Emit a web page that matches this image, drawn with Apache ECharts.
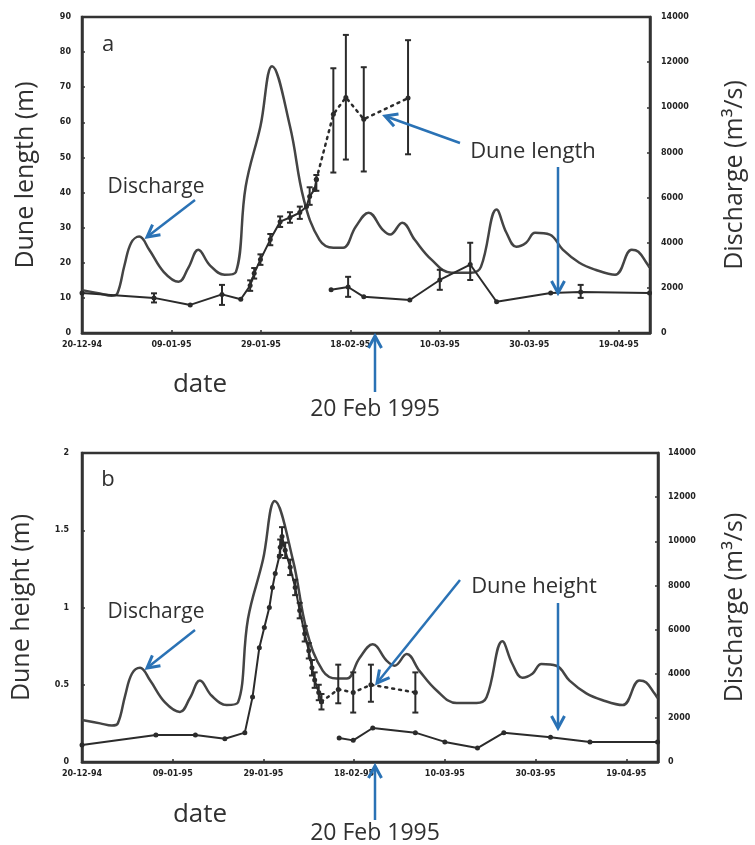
<!DOCTYPE html>
<html>
<head>
<meta charset="utf-8">
<script src="https://cdn.jsdelivr.net/npm/echarts@6/dist/echarts.min.js"></script>
<style>
html,body{margin:0;padding:0;background:#fff;}
#c{width:755px;height:845px;}
</style>
</head>
<body>
<div id="c"></div>
<script>
// ---- tick labels (x axis: days since 20-12-94, every 20 days) ----
const tickLabels = ['20-12-94','09-01-95','29-01-95','18-02-95','10-03-95','30-03-95','19-04-95'];

// ---- discharge (m3/s), shared by both panels ----
const dischargeDay = [0, 4, 6.6, 7.9, 9.5, 11, 12.8, 15, 18.3, 21.6, 23.8, 26, 28.6, 31.9, 34.4, 36.6, 39.9, 42.5, 46.5, 49.6, 53.1, 56.2, 58.4, 61.2, 64.1, 67.2, 68.9, 71.6, 74.4, 78.2, 82.6, 87, 89.2, 92.7, 94.9, 97.1, 99.3, 101.3, 104.6, 107.5, 111.2, 114.8, 119.2, 122.9, 124.4, 126.2, 126.9];
const dischargeQ   = [1900, 1750, 1650, 1750, 3000, 4000, 4270, 3700, 2700, 2270, 2900, 3690, 3000, 2580, 2700, 6490, 9160, 11820, 9160, 5910, 4130, 3780, 3780, 4710, 5330, 4580, 4360, 4890, 4130, 3240, 2670, 2670, 2930, 5470, 4440, 3820, 4000, 4440, 4360, 3690, 3110, 2800, 2580, 3690, 3600, 3110, 2900];

// ---- panel a: dune length (m) ----
const lengthMainDay = [0, 16.1, 24.2, 31.3, 35.5, 37.6, 38.5, 39.9, 42.1, 44.3, 46.5, 48.7, 50.2, 50.9, 52.0, 52.4];
const lengthMain    = [11.4, 10, 8, 11, 9.6, 13.5, 17, 20.9, 26.6, 31.7, 32.9, 34.3, 36, 38.9, 40.9, 43.7];
const lengthDotDay  = [52.4, 56.2, 59.0, 63.0, 72.9];
const lengthDot     = [43.7, 62.3, 67.1, 60.9, 66.9];
const lengthLowDay  = [55.7, 59.5, 63.0, 73.3, 80.0, 86.8, 92.7, 104.8, 111.5, 126.9];
const lengthLow     = [12.3, 13.1, 10.3, 9.4, 15.1, 19.5, 8.9, 11.4, 11.7, 11.4];
const lengthErrDay  = [16.1, 31.3, 37.6, 38.5, 39.9, 42.1, 44.3, 46.5, 48.7, 50.9, 52.4, 56.2, 59.0, 63.0, 72.9, 59.5, 80.0, 86.8, 111.5];
const lengthErrLow  = [8.7, 8, 12, 15.5, 19.4, 25, 30.2, 31.4, 32.5, 36.5, 40.5, 45.7, 49.4, 46, 50.9, 10.3, 12.3, 15.1, 10];
const lengthErrHigh = [11.3, 13.7, 15, 18.5, 22.4, 28.2, 33.2, 34.4, 36, 41.5, 45, 75.4, 84.9, 75.7, 83.4, 16, 18, 25.7, 13.7];

// ---- panel b: dune height (m) ----
const heightMainDay = [0, 16.3, 25, 31.5, 35.9, 37.6, 39.1, 40.2, 41.3, 42, 42.6, 43.5, 43.7, 44.1, 44.8, 45.9, 47, 48, 49.1, 50, 50.7, 51.3, 52.2, 52.8];
const heightMain    = [0.11, 0.175, 0.175, 0.15, 0.19, 0.42, 0.74, 0.87, 1.0, 1.13, 1.22, 1.33, 1.39, 1.46, 1.37, 1.26, 1.13, 0.98, 0.83, 0.72, 0.61, 0.53, 0.45, 0.39];
const heightDotDay  = [52.8, 56.5, 59.8, 63.7, 73.5];
const heightDot     = [0.39, 0.47, 0.45, 0.5, 0.45];
const heightLowDay  = [56.7, 59.8, 64.1, 73.5, 80, 87.2, 93, 103.3, 112, 126.9];
const heightLow     = [0.155, 0.14, 0.22, 0.19, 0.13, 0.09, 0.19, 0.16, 0.13, 0.13];
const heightErrDay  = [43.7, 44.1, 44.8, 45.9, 47, 48, 49.1, 50, 50.7, 51.3, 52.2, 52.8, 56.5, 59.8, 63.7, 73.5];
const heightErrLow  = [1.34, 1.4, 1.32, 1.21, 1.08, 0.93, 0.78, 0.67, 0.56, 0.48, 0.4, 0.34, 0.38, 0.32, 0.39, 0.32];
const heightErrHigh = [1.44, 1.52, 1.42, 1.31, 1.18, 1.03, 0.88, 0.77, 0.66, 0.58, 0.5, 0.44, 0.63, 0.58, 0.63, 0.58];

const zip = (a, b) => a.map((v, i) => [v, b[i]]);
const zip3 = (a, b, c) => a.map((v, i) => [v, b[i], c[i]]);

const INK = '#2b2b2b';
const QINK = '#444';
const BLUE = '#2a72b5';
const TXT = '#303030';
const FONT = '"Open Sans", "Noto Sans", sans-serif';

const chart = echarts.init(document.getElementById('c'), null, {renderer: 'canvas'});

function xAxisCfg(gi) {
  return {
    type: 'value', gridIndex: gi, min: 0, max: 127, interval: 20,
    axisLine: {show: true, lineStyle: {color: '#333', width: 2.5}},
    axisTick: {show: true, inside: true, length: 3, lineStyle: {color: '#333', width: 1.5}},
    splitLine: {show: false},
    axisLabel: {
      showMaxLabel: false, margin: 8,
      fontFamily: 'DejaVu Sans', fontWeight: 'bold', fontSize: 8, color: '#222',
      formatter: v => (v % 20 === 0 ? (tickLabels[v / 20] || '') : '')
    }
  };
}
function yAxisCfg(gi, pos, min, max, interval, name, gap, margin) {
  return {
    type: 'value', gridIndex: gi, position: pos, min: min, max: max, interval: interval,
    name: name, nameLocation: 'middle', nameRotate: 90, nameGap: gap,
    nameTextStyle: {fontFamily: FONT, fontSize: 25, color: TXT},
    axisLine: {show: true, lineStyle: {color: '#333', width: 2.5}},
    axisTick: {show: true, inside: true, length: 3, lineStyle: {color: '#333', width: 1.5}},
    splitLine: {show: false},
    axisLabel: {margin: margin, fontFamily: 'DejaVu Sans', fontWeight: 'bold', fontSize: 8, color: '#222',
      formatter: v => String(v)}
  };
}

function errRender(params, api) {
  const x = api.value(0), lo = api.value(1), hi = api.value(2);
  const p1 = api.coord([x, hi]), p2 = api.coord([x, lo]);
  const w = 3;
  const st = {stroke: INK, lineWidth: 2};
  return {type: 'group', children: [
    {type: 'line', shape: {x1: p1[0], y1: p1[1], x2: p2[0], y2: p2[1]}, style: st},
    {type: 'line', shape: {x1: p1[0] - w, y1: p1[1], x2: p1[0] + w, y2: p1[1]}, style: st},
    {type: 'line', shape: {x1: p2[0] - w, y1: p2[1], x2: p2[0] + w, y2: p2[1]}, style: st}
  ]};
}

function lineSeries(data, xi, yi, opts) {
  return Object.assign({
    type: 'line', xAxisIndex: xi, yAxisIndex: yi, data: data,
    symbol: 'circle', symbolSize: 5, showSymbol: true,
    itemStyle: {color: INK}, lineStyle: {color: INK, width: 2}, z: 3, animation: false
  }, opts || {});
}

function arrow(x1, y1, x2, y2) {
  const dx = x2 - x1, dy = y2 - y1, L = Math.hypot(dx, dy), ux = dx / L, uy = dy / L;
  const hl = 12, hw = 6.5;
  const bx = x2 - ux * hl, by = y2 - uy * hl;
  return [
    {type: 'line', shape: {x1: x1, y1: y1, x2: x2 - ux * 1.5, y2: y2 - uy * 1.5}, style: {stroke: BLUE, lineWidth: 2.5}, z: 20},
    {type: 'polyline', shape: {points: [[bx - uy * hw, by + ux * hw], [x2, y2], [bx + uy * hw, by - ux * hw]]},
     style: {stroke: BLUE, lineWidth: 3, fill: null, lineJoin: 'miter'}, z: 20}
  ];
}
function txt(s, x, y, size) {
  return {type: 'text', x: x, y: y, z: 20,
    style: {text: s, font: size + 'px ' + FONT, fill: TXT, textAlign: 'center', textVerticalAlign: 'middle'}};
}

const graphics = [].concat(
  txt('a', 108, 45, 22),
  txt('Discharge', 156, 187, 21),
  arrow(195, 200, 147, 237),
  txt('Dune length', 533, 152, 22),
  arrow(460, 143, 385, 116),
  arrow(558, 167, 558, 293),
  txt('date', 200, 385, 26),
  arrow(375, 392, 375, 336),
  txt('20 Feb 1995', 375, 409, 23),
  txt('b', 108, 480, 22),
  txt('Discharge', 156, 612, 21),
  arrow(195, 630, 147, 668),
  txt('Dune height', 534, 587, 22),
  arrow(460, 580, 377, 683),
  arrow(558, 603, 558, 728),
  txt('date', 200, 815, 26),
  arrow(375, 820, 375, 766),
  txt('20 Feb 1995', 375, 833, 23)
);

const option = {
  backgroundColor: '#fff',
  animation: false,
  grid: [
    {left: 82, top: 17, width: 575, height: 316, show: true, borderColor: '#333', borderWidth: 2.5, backgroundColor: 'transparent'},
    {left: 82, top: 453, width: 584, height: 309, show: true, borderColor: '#333', borderWidth: 2.5, backgroundColor: 'transparent'}
  ],
  xAxis: [xAxisCfg(0), xAxisCfg(1)],
  yAxis: [
    yAxisCfg(0, 'left', 0, 90, 10, 'Dune length (m)', 44, 11),
    yAxisCfg(0, 'right', 0, 14000, 2000, 'Discharge (m³/s)', 72, 11),
    yAxisCfg(1, 'left', 0, 2, 0.5, 'Dune height (m)', 48, 13),
    yAxisCfg(1, 'right', 0, 14000, 2000, 'Discharge (m³/s)', 64, 10)
  ],
  series: [
    // panel a
    lineSeries(zip(dischargeDay, dischargeQ), 0, 1, {symbol: 'none', smooth: 0.4, lineStyle: {color: QINK, width: 2.5}, z: 2}),
    lineSeries(zip(lengthMainDay, lengthMain), 0, 0),
    lineSeries(zip(lengthDotDay, lengthDot), 0, 0, {lineStyle: {color: INK, width: 2.5, type: [2, 5], cap: 'round'}}),
    lineSeries(zip(lengthLowDay, lengthLow), 0, 0),
    {type: 'custom', xAxisIndex: 0, yAxisIndex: 0, renderItem: errRender, encode: {x: 0, y: [1, 2]},
     data: zip3(lengthErrDay, lengthErrLow, lengthErrHigh), z: 4, animation: false},
    // panel b
    lineSeries(zip(dischargeDay, dischargeQ), 1, 3, {symbol: 'none', smooth: 0.4, lineStyle: {color: QINK, width: 2.5}, z: 2}),
    lineSeries(zip(heightMainDay, heightMain), 1, 2),
    lineSeries(zip(heightDotDay, heightDot), 1, 2, {lineStyle: {color: INK, width: 2.5, type: [2, 5], cap: 'round'}}),
    lineSeries(zip(heightLowDay, heightLow), 1, 2),
    {type: 'custom', xAxisIndex: 1, yAxisIndex: 2, renderItem: errRender, encode: {x: 0, y: [1, 2]},
     data: zip3(heightErrDay, heightErrLow, heightErrHigh), z: 4, animation: false}
  ],
  graphic: graphics
};
chart.setOption(option);
</script>
</body>
</html>
